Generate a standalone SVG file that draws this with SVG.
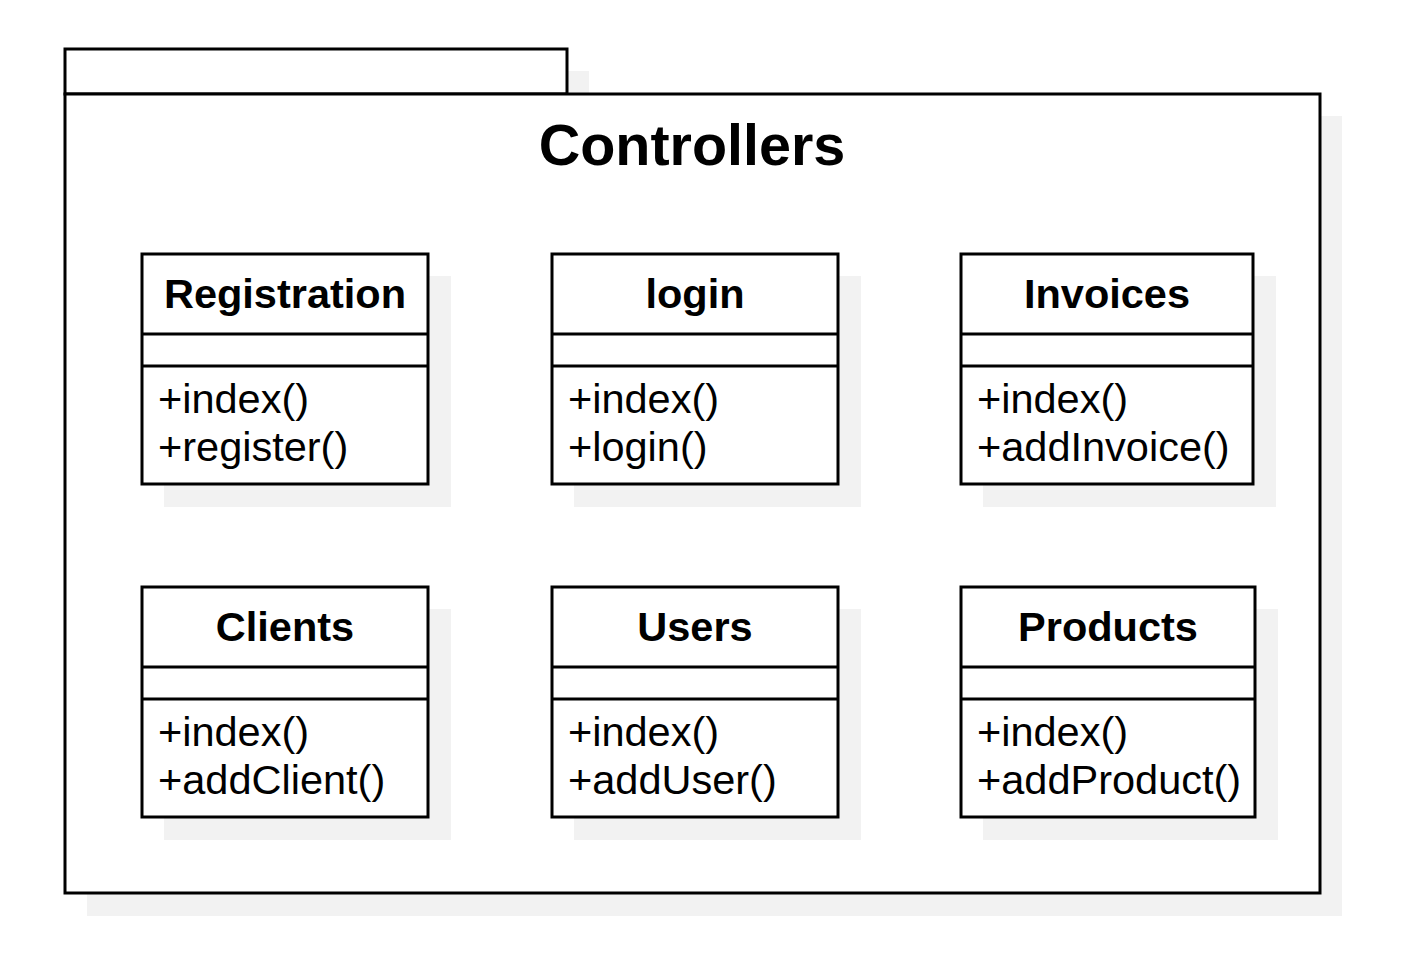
<svg xmlns="http://www.w3.org/2000/svg" width="1406" height="970" viewBox="0 0 1406 970">
<style>
.sh{fill:#f2f2f2;stroke:none}
.bx{fill:#ffffff;stroke:#000000;stroke-width:3}
.ln{stroke:#000000;stroke-width:3;fill:none}
.hd{font-family:"Liberation Sans",Arial,sans-serif;font-weight:bold;font-size:41.5px;text-anchor:middle;fill:#000}
.mt{font-family:"Liberation Sans",Arial,sans-serif;font-size:41.5px;fill:#000}
.tt{font-family:"Liberation Sans",Arial,sans-serif;font-weight:bold;font-size:57.5px;text-anchor:middle;fill:#000}
</style>
<rect width="1406" height="970" fill="#ffffff"/>
<g id="package">
<rect class="sh" x="87" y="71" width="502" height="45"/>
<rect class="sh" x="87" y="116" width="1255" height="800"/>
<rect class="bx" x="65" y="49" width="502" height="45"/>
<rect class="bx" x="65" y="94" width="1255" height="799"/>
<text class="tt" x="692" y="165">Controllers</text>
</g>
<g id="registration">
<rect class="sh" x="164" y="276" width="287" height="231"/>
<rect class="bx" x="142" y="254" width="286" height="230"/>
<line class="ln" x1="142" y1="334" x2="428" y2="334"/>
<line class="ln" x1="142" y1="366" x2="428" y2="366"/>
<text class="hd" x="285" y="308">Registration</text>
<text class="mt" x="158" y="413">+index()</text>
<text class="mt" x="158" y="461">+register()</text>
</g>
<g id="login">
<rect class="sh" x="574" y="276" width="287" height="231"/>
<rect class="bx" x="552" y="254" width="286" height="230"/>
<line class="ln" x1="552" y1="334" x2="838" y2="334"/>
<line class="ln" x1="552" y1="366" x2="838" y2="366"/>
<text class="hd" x="695" y="308">login</text>
<text class="mt" x="568" y="413">+index()</text>
<text class="mt" x="568" y="461">+login()</text>
</g>
<g id="invoices">
<rect class="sh" x="983" y="276" width="293" height="231"/>
<rect class="bx" x="961" y="254" width="292" height="230"/>
<line class="ln" x1="961" y1="334" x2="1253" y2="334"/>
<line class="ln" x1="961" y1="366" x2="1253" y2="366"/>
<text class="hd" x="1107" y="308">Invoices</text>
<text class="mt" x="977" y="413">+index()</text>
<text class="mt" x="977" y="461">+addInvoice()</text>
</g>
<g id="clients">
<rect class="sh" x="164" y="609" width="287" height="231"/>
<rect class="bx" x="142" y="587" width="286" height="230"/>
<line class="ln" x1="142" y1="667" x2="428" y2="667"/>
<line class="ln" x1="142" y1="699" x2="428" y2="699"/>
<text class="hd" x="285" y="641">Clients</text>
<text class="mt" x="158" y="746">+index()</text>
<text class="mt" x="158" y="794">+addClient()</text>
</g>
<g id="users">
<rect class="sh" x="574" y="609" width="287" height="231"/>
<rect class="bx" x="552" y="587" width="286" height="230"/>
<line class="ln" x1="552" y1="667" x2="838" y2="667"/>
<line class="ln" x1="552" y1="699" x2="838" y2="699"/>
<text class="hd" x="695" y="641">Users</text>
<text class="mt" x="568" y="746">+index()</text>
<text class="mt" x="568" y="794">+addUser()</text>
</g>
<g id="products">
<rect class="sh" x="983" y="609" width="295" height="231"/>
<rect class="bx" x="961" y="587" width="294" height="230"/>
<line class="ln" x1="961" y1="667" x2="1255" y2="667"/>
<line class="ln" x1="961" y1="699" x2="1255" y2="699"/>
<text class="hd" x="1108" y="641">Products</text>
<text class="mt" x="977" y="746">+index()</text>
<text class="mt" x="977" y="794">+addProduct()</text>
</g>
<g id="connectors"></g>
</svg>
